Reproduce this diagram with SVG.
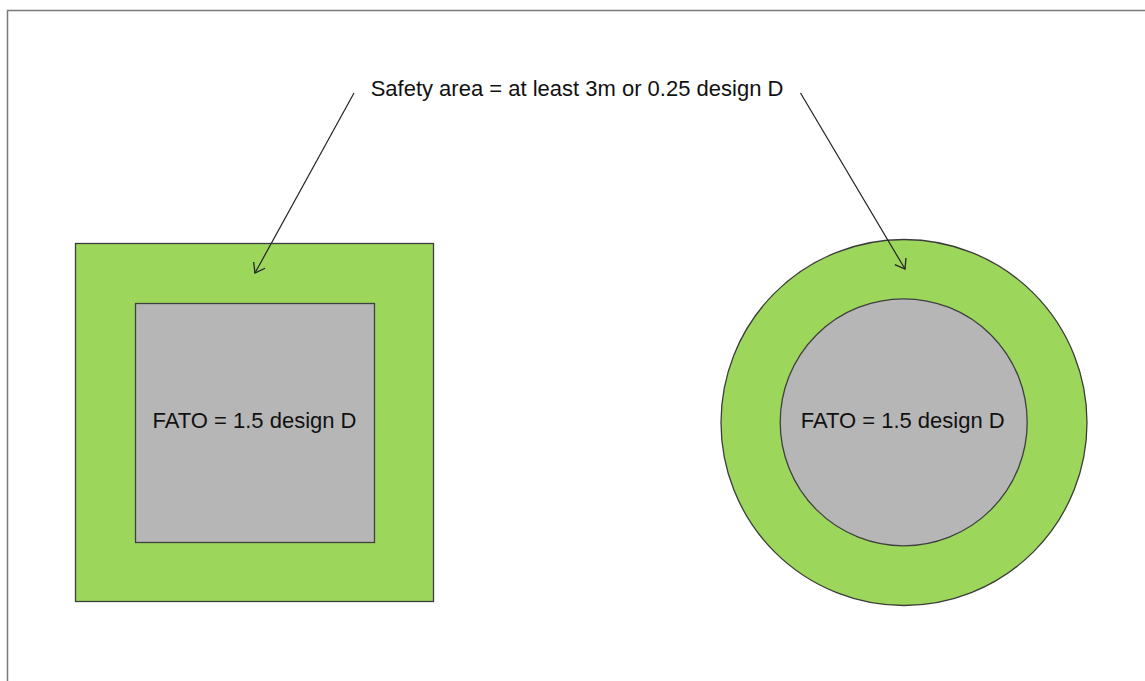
<svg xmlns="http://www.w3.org/2000/svg" width="1145" height="681" viewBox="0 0 1145 681">
<style>
.safety{fill:#9cd75c;stroke:#3c3c3c;stroke-width:1.3}
.fato{fill:#b6b6b6;stroke:#404040;stroke-width:1.3}
.lbl{font-family:"Liberation Sans",Arial,sans-serif;font-size:22px;fill:#111;text-anchor:middle}
.conn{stroke:#222;stroke-width:1.2;fill:none}
</style>
<defs>
<marker id="open" markerUnits="userSpaceOnUse" markerWidth="24" markerHeight="24" refX="0" refY="0" viewBox="-12 -12 24 24" orient="auto" overflow="visible">
<path d="M -9 -6.5 L 0 0 L -9 6.5" fill="none" stroke="#222" stroke-width="1.3"/>
</marker>
</defs>
<rect width="1145" height="681" fill="#ffffff"/>
<rect x="7.5" y="10.5" width="1200" height="700" fill="none" stroke="#7a7a7a" stroke-width="1.5"/>
<g id="square-node">
<rect class="safety" x="75.5" y="243.5" width="358" height="358"/>
<rect class="fato" x="135.5" y="303.5" width="239" height="239"/>
<text class="lbl" x="254.5" y="427.5">FATO = 1.5 design D</text>
</g>
<g id="circle-node">
<circle class="safety" cx="904" cy="422.5" r="183"/>
<circle class="fato" cx="903.7" cy="422.3" r="123.5"/>
<text class="lbl" x="902.7" y="427.5">FATO = 1.5 design D</text>
</g>
<g id="label-node">
<text class="lbl" x="577" y="96">Safety area = at least 3m or 0.25 design D</text>
</g>
<g id="connectors">
<line class="conn" x1="354" y1="93" x2="255" y2="273" marker-end="url(#open)"/>
<line class="conn" x1="800.5" y1="93" x2="905" y2="269" marker-end="url(#open)"/>
</g>
</svg>
